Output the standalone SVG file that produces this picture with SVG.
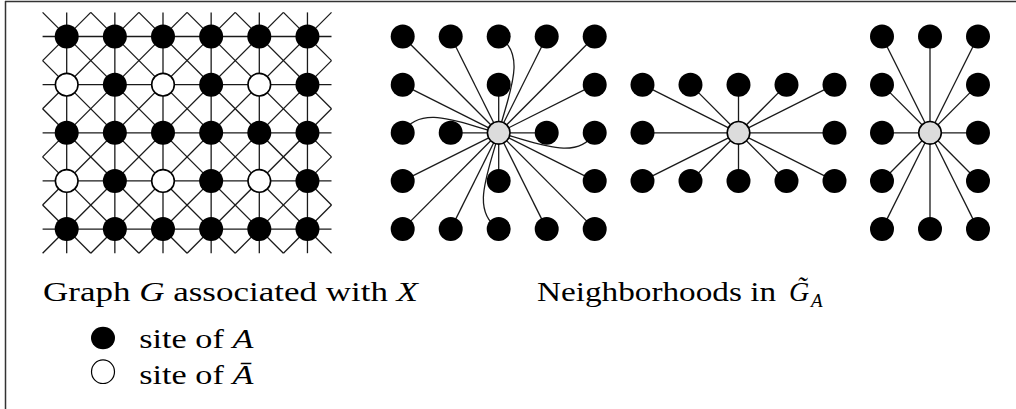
<svg xmlns="http://www.w3.org/2000/svg" width="1016" height="409" viewBox="0 0 1016 409">
<style>
.frame{stroke:#333;stroke-width:1.5;fill:none}
.g{stroke:#1a1a1a;stroke-width:1.3;fill:none}
.e{stroke:#1a1a1a;stroke-width:1.3;fill:none}
.a{fill:#000}
.na{fill:#fff;stroke:#000;stroke-width:1.6}
.c{fill:#dcdcdc;stroke:#000;stroke-width:1.6}
text{font-family:"Liberation Serif","Times New Roman",serif;font-size:28px;fill:#000}
.i{font-style:italic}
</style>
<rect width="1016" height="409" fill="#fff"/>
<g id="frame" class="frame">
<line x1="5" y1="1.5" x2="1016" y2="1.5"/>
<line x1="5.5" y1="1" x2="5.5" y2="409"/>
</g>

<g id="connectors">
<g id="grid-G" class="g">
<!-- horizontal -->
<line x1="42.6" y1="36.5" x2="331.5" y2="36.5"/>
<line x1="42.6" y1="84.65" x2="331.5" y2="84.65"/>
<line x1="42.6" y1="132.8" x2="331.5" y2="132.8"/>
<line x1="42.6" y1="180.95" x2="331.5" y2="180.95"/>
<line x1="42.6" y1="229.1" x2="331.5" y2="229.1"/>
<!-- vertical -->
<line x1="66.7" y1="12.4" x2="66.7" y2="253.2"/>
<line x1="114.85" y1="12.4" x2="114.85" y2="253.2"/>
<line x1="163" y1="12.4" x2="163" y2="253.2"/>
<line x1="211.15" y1="12.4" x2="211.15" y2="253.2"/>
<line x1="259.3" y1="12.4" x2="259.3" y2="253.2"/>
<line x1="307.45" y1="12.4" x2="307.45" y2="253.2"/>
<!-- diagonals -->
<line x1="42.6" y1="205" x2="90.8" y2="253.2"/>
<line x1="42.6" y1="156.9" x2="138.9" y2="253.2"/>
<line x1="42.6" y1="108.7" x2="187.1" y2="253.2"/>
<line x1="42.6" y1="60.6" x2="235.2" y2="253.2"/>
<line x1="42.6" y1="12.4" x2="283.4" y2="253.2"/>
<line x1="90.8" y1="12.4" x2="331.5" y2="253.2"/>
<line x1="138.9" y1="12.4" x2="331.5" y2="205"/>
<line x1="187.1" y1="12.4" x2="331.5" y2="156.9"/>
<line x1="235.2" y1="12.4" x2="331.5" y2="108.7"/>
<line x1="283.4" y1="12.4" x2="331.5" y2="60.6"/>
<!-- anti-diagonals -->
<line x1="42.6" y1="60.6" x2="90.8" y2="12.4"/>
<line x1="42.6" y1="108.7" x2="138.9" y2="12.4"/>
<line x1="42.6" y1="156.9" x2="187.1" y2="12.4"/>
<line x1="42.6" y1="205" x2="235.2" y2="12.4"/>
<line x1="42.6" y1="253.2" x2="283.4" y2="12.4"/>
<line x1="90.8" y1="253.2" x2="331.5" y2="12.4"/>
<line x1="138.9" y1="253.2" x2="331.5" y2="60.6"/>
<line x1="187.1" y1="253.2" x2="331.5" y2="108.7"/>
<line x1="235.2" y1="253.2" x2="331.5" y2="156.9"/>
<line x1="283.4" y1="253.2" x2="331.5" y2="205"/>
</g>
<g id="edges-nb1" class="e">
<line x1="498.7" y1="132.8" x2="402.7" y2="36.5"/>
<line x1="498.7" y1="132.8" x2="450.7" y2="36.5"/>
<line x1="498.7" y1="132.8" x2="546.7" y2="36.5"/>
<line x1="498.7" y1="132.8" x2="594.7" y2="36.5"/>
<line x1="498.7" y1="132.8" x2="402.7" y2="84.65"/>
<line x1="498.7" y1="132.8" x2="498.7" y2="84.65"/>
<line x1="498.7" y1="132.8" x2="594.7" y2="84.65"/>
<line x1="498.7" y1="132.8" x2="450.7" y2="132.8"/>
<line x1="498.7" y1="132.8" x2="546.7" y2="132.8"/>
<line x1="498.7" y1="132.8" x2="402.7" y2="180.95"/>
<line x1="498.7" y1="132.8" x2="498.7" y2="180.95"/>
<line x1="498.7" y1="132.8" x2="594.7" y2="180.95"/>
<line x1="498.7" y1="132.8" x2="402.7" y2="229.1"/>
<line x1="498.7" y1="132.8" x2="450.7" y2="229.1"/>
<line x1="498.7" y1="132.8" x2="546.7" y2="229.1"/>
<line x1="498.7" y1="132.8" x2="594.7" y2="229.1"/>
<path d="M498.7,132.8 C508,95 528,55 498.7,36.5"/>
<path d="M498.7,132.8 C489.4,170.6 469.4,210.6 498.7,229.1"/>
<path d="M498.7,132.8 C460.9,123.5 420.9,103.5 402.7,132.8"/>
<path d="M498.7,132.8 C536.5,142.1 576.5,162.1 594.7,132.8"/>
</g>
<g id="edges-nb2" class="e">
<line x1="738.5" y1="132.8" x2="642.5" y2="84.65"/>
<line x1="738.5" y1="132.8" x2="690.5" y2="84.65"/>
<line x1="738.5" y1="132.8" x2="738.5" y2="84.65"/>
<line x1="738.5" y1="132.8" x2="786.5" y2="84.65"/>
<line x1="738.5" y1="132.8" x2="834.5" y2="84.65"/>
<line x1="738.5" y1="132.8" x2="642.5" y2="132.8"/>
<line x1="738.5" y1="132.8" x2="834.5" y2="132.8"/>
<line x1="738.5" y1="132.8" x2="642.5" y2="180.95"/>
<line x1="738.5" y1="132.8" x2="690.5" y2="180.95"/>
<line x1="738.5" y1="132.8" x2="738.5" y2="180.95"/>
<line x1="738.5" y1="132.8" x2="786.5" y2="180.95"/>
<line x1="738.5" y1="132.8" x2="834.5" y2="180.95"/>
</g>
<g id="edges-nb3" class="e">
<line x1="930" y1="132.8" x2="882" y2="36.5"/>
<line x1="930" y1="132.8" x2="930" y2="36.5"/>
<line x1="930" y1="132.8" x2="978" y2="36.5"/>
<line x1="930" y1="132.8" x2="882" y2="84.65"/>
<line x1="930" y1="132.8" x2="978" y2="84.65"/>
<line x1="930" y1="132.8" x2="882" y2="132.8"/>
<line x1="930" y1="132.8" x2="978" y2="132.8"/>
<line x1="930" y1="132.8" x2="882" y2="180.95"/>
<line x1="930" y1="132.8" x2="978" y2="180.95"/>
<line x1="930" y1="132.8" x2="882" y2="229.1"/>
<line x1="930" y1="132.8" x2="930" y2="229.1"/>
<line x1="930" y1="132.8" x2="978" y2="229.1"/>
</g>
</g>

<g id="graph-G-nodes">
<g id="g-r0">
<circle class="a" cx="66.7" cy="36.5" r="12"/><circle class="a" cx="114.85" cy="36.5" r="12"/><circle class="a" cx="163" cy="36.5" r="12"/><circle class="a" cx="211.15" cy="36.5" r="12"/><circle class="a" cx="259.3" cy="36.5" r="12"/><circle class="a" cx="307.45" cy="36.5" r="12"/>
</g>
<g id="g-r1">
<circle class="na" cx="66.7" cy="84.65" r="11.3"/><circle class="a" cx="114.85" cy="84.65" r="12"/><circle class="na" cx="163" cy="84.65" r="11.3"/><circle class="a" cx="211.15" cy="84.65" r="12"/><circle class="na" cx="259.3" cy="84.65" r="11.3"/><circle class="a" cx="307.45" cy="84.65" r="12"/>
</g>
<g id="g-r2">
<circle class="a" cx="66.7" cy="132.8" r="12"/><circle class="a" cx="114.85" cy="132.8" r="12"/><circle class="a" cx="163" cy="132.8" r="12"/><circle class="a" cx="211.15" cy="132.8" r="12"/><circle class="a" cx="259.3" cy="132.8" r="12"/><circle class="a" cx="307.45" cy="132.8" r="12"/>
</g>
<g id="g-r3">
<circle class="na" cx="66.7" cy="180.95" r="11.3"/><circle class="a" cx="114.85" cy="180.95" r="12"/><circle class="na" cx="163" cy="180.95" r="11.3"/><circle class="a" cx="211.15" cy="180.95" r="12"/><circle class="na" cx="259.3" cy="180.95" r="11.3"/><circle class="a" cx="307.45" cy="180.95" r="12"/>
</g>
<g id="g-r4">
<circle class="a" cx="66.7" cy="229.1" r="12"/><circle class="a" cx="114.85" cy="229.1" r="12"/><circle class="a" cx="163" cy="229.1" r="12"/><circle class="a" cx="211.15" cy="229.1" r="12"/><circle class="a" cx="259.3" cy="229.1" r="12"/><circle class="a" cx="307.45" cy="229.1" r="12"/>
</g>
</g>

<g id="nb1-nodes">
<circle class="a" cx="402.7" cy="36.5" r="12"/><circle class="a" cx="450.7" cy="36.5" r="12"/><circle class="a" cx="498.7" cy="36.5" r="12"/><circle class="a" cx="546.7" cy="36.5" r="12"/><circle class="a" cx="594.7" cy="36.5" r="12"/>
<circle class="a" cx="402.7" cy="84.65" r="12"/><circle class="a" cx="498.7" cy="84.65" r="12"/><circle class="a" cx="594.7" cy="84.65" r="12"/>
<circle class="a" cx="402.7" cy="132.8" r="12"/><circle class="a" cx="450.7" cy="132.8" r="12"/><circle class="a" cx="546.7" cy="132.8" r="12"/><circle class="a" cx="594.7" cy="132.8" r="12"/>
<circle class="a" cx="402.7" cy="180.95" r="12"/><circle class="a" cx="498.7" cy="180.95" r="12"/><circle class="a" cx="594.7" cy="180.95" r="12"/>
<circle class="a" cx="402.7" cy="229.1" r="12"/><circle class="a" cx="450.7" cy="229.1" r="12"/><circle class="a" cx="498.7" cy="229.1" r="12"/><circle class="a" cx="546.7" cy="229.1" r="12"/><circle class="a" cx="594.7" cy="229.1" r="12"/>
<circle id="nb1-center" class="c" cx="498.7" cy="132.8" r="11.3"/>
</g>

<g id="nb2-nodes">
<circle class="a" cx="642.5" cy="84.65" r="12"/><circle class="a" cx="690.5" cy="84.65" r="12"/><circle class="a" cx="738.5" cy="84.65" r="12"/><circle class="a" cx="786.5" cy="84.65" r="12"/><circle class="a" cx="834.5" cy="84.65" r="12"/>
<circle class="a" cx="642.5" cy="132.8" r="12"/><circle class="a" cx="834.5" cy="132.8" r="12"/>
<circle class="a" cx="642.5" cy="180.95" r="12"/><circle class="a" cx="690.5" cy="180.95" r="12"/><circle class="a" cx="738.5" cy="180.95" r="12"/><circle class="a" cx="786.5" cy="180.95" r="12"/><circle class="a" cx="834.5" cy="180.95" r="12"/>
<circle id="nb2-center" class="c" cx="738.5" cy="132.8" r="11.3"/>
</g>

<g id="nb3-nodes">
<circle class="a" cx="882" cy="36.5" r="12"/><circle class="a" cx="930" cy="36.5" r="12"/><circle class="a" cx="978" cy="36.5" r="12"/>
<circle class="a" cx="882" cy="84.65" r="12"/><circle class="a" cx="978" cy="84.65" r="12"/>
<circle class="a" cx="882" cy="132.8" r="12"/><circle class="a" cx="978" cy="132.8" r="12"/>
<circle class="a" cx="882" cy="180.95" r="12"/><circle class="a" cx="978" cy="180.95" r="12"/>
<circle class="a" cx="882" cy="229.1" r="12"/><circle class="a" cx="930" cy="229.1" r="12"/><circle class="a" cx="978" cy="229.1" r="12"/>
<circle id="nb3-center" class="c" cx="930" cy="132.8" r="11.3"/>
</g>

<g id="labels">
<text x="43" y="301" textLength="375" lengthAdjust="spacingAndGlyphs">Graph <tspan class="i">G</tspan> associated with <tspan class="i">X</tspan></text>
<text x="537" y="301" textLength="239" lengthAdjust="spacingAndGlyphs">Neighborhoods in</text>
<text x="789" y="301" class="i">G&#x303;</text>
<text x="811" y="306.5" class="i" style="font-size:19px">A</text>
</g>

<g id="legend">
<g id="legend-A">
<ellipse cx="103" cy="338" rx="12" ry="11.3" fill="#000"/>
<text x="139.3" y="348.3" textLength="114" lengthAdjust="spacingAndGlyphs">site of <tspan class="i">A</tspan></text>
</g>
<g id="legend-Abar">
<ellipse cx="103" cy="371.7" rx="11.5" ry="11.8" fill="#fff" stroke="#000" stroke-width="1.2"/>
<text x="139.3" y="384" textLength="114" lengthAdjust="spacingAndGlyphs">site of <tspan class="i">&#x100;</tspan></text>
</g>
</g>
</svg>
